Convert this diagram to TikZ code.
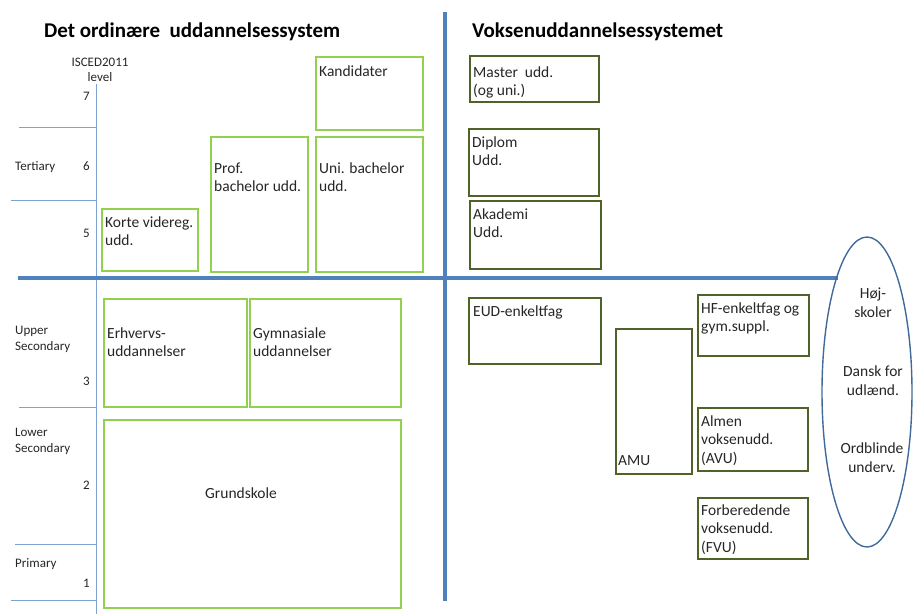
\documentclass[tikz,border=0pt]{standalone}
\usepackage{fontspec}
\setmainfont{Carlito}
\usetikzlibrary{shapes.geometric}
\definecolor{gboxc}{HTML}{92D050}
\definecolor{dboxc}{HTML}{4F6228}
\definecolor{bluethick}{HTML}{4F81BD}
\definecolor{bluethin}{HTML}{7EA2D2}
\definecolor{ellc}{HTML}{41699A}
\definecolor{txtc}{HTML}{262626}
\begin{document}
\begin{tikzpicture}[x=1pt,y=-1pt,
  gbox/.style={draw=gboxc,line width=1.8pt,inner sep=0pt,anchor=north west},
  dbox/.style={draw=dboxc,line width=1.8pt,inner sep=0pt,anchor=north west},
  btxt/.style={inner sep=0pt,anchor=base west,align=left,font=\fontsize{15.5}{18.5}\selectfont,text=txtc},
  ctxt/.style={inner sep=0pt,anchor=base,align=center,font=\fontsize{15.5}{18.5}\selectfont,text=txtc},
  stxt/.style={inner sep=0pt,anchor=base west,align=left,font=\fontsize{13}{16}\selectfont,text=txtc},
  ntxt/.style={inner sep=0pt,anchor=base east,font=\fontsize{13}{16}\selectfont,text=txtc},
  ttl/.style={inner sep=0pt,anchor=base west,font=\fontsize{21}{25}\bfseries\selectfont,text=black},
  thick line/.style={draw=bluethick,line width=3.5pt},
  thin line/.style={draw=bluethin,line width=1pt}]
\useasboundingbox (0,0) rectangle (914,614);
% titles
\node[ttl] (t1) at (44,37) {Det ordinære\ \ uddannelsessystem};
\node[ttl] (t2) at (472,37) {Voksenuddannelsessystemet};
% axis
\draw[thin line] (96,84) -- (96,614);
\draw[thin line] (19,127) -- (96,127);
\draw[thin line] (11,200) -- (96,200);
\draw[thin line] (19,407) -- (96,407);
\draw[thin line] (15,544) -- (96,544);
\draw[thin line] (11,600) -- (96,600);
% main cross
\draw[thick line] (445,12) -- (445,601);
\draw[thick line] (18,278) -- (838,278);
% axis labels (base anchor = last line)
\node[inner sep=0pt,anchor=base,align=center,font=\fontsize{13}{15}\selectfont,text=txtc] (isced) at (100,81) {ISCED2011\\level};
\node[ntxt] (n7) at (90,100) {7};
\node[ntxt] (n6) at (90,170) {6};
\node[ntxt] (n5) at (90,237) {5};
\node[ntxt] (n3) at (90,385) {3};
\node[ntxt] (n2) at (90,489) {2};
\node[ntxt] (n1) at (90,587) {1};
\node[stxt] (tert) at (15,170) {Tertiary};
\node[stxt] (upper) at (15,350) {Upper\\Secondary};
\node[stxt] (lower) at (15,452) {Lower\\Secondary};
\node[stxt] (prim) at (15,567) {Primary};
% left boxes
\node[gbox,minimum width=96,minimum height=62] (korte) at (101,208) {};
\node[btxt] (kortet) at (105,245.5) {Korte videreg.\\udd.};
\node[gbox,minimum width=97,minimum height=135] (prof) at (210,136) {};
\node[btxt] (proft) at (214,191.5) {Prof.\\bachelor udd.};
\node[gbox,minimum width=107,minimum height=135] (uni) at (315,136) {};
\node[btxt] (unit) at (319,191.5) {Uni. bachelor\\udd.};
\node[gbox,minimum width=107,minimum height=73] (kand) at (315,56) {};
\node[btxt] (kandt) at (319,76) {Kandidater};
\node[gbox,minimum width=143,minimum height=108] (erh) at (103,298) {};
\node[btxt] (erht) at (107,356.5) {Erhvervs-\\uddannelser};
\node[gbox,minimum width=151,minimum height=108] (gym) at (249,298) {};
\node[btxt] (gymt) at (253,356.5) {Gymnasiale\\uddannelser};
\node[gbox,minimum width=297,minimum height=188] (grund) at (103,419) {};
\node[ctxt] (grundt) at (241,498) {Grundskole};
% right boxes
\node[dbox,minimum width=129,minimum height=46] (master) at (469,55) {};
\node[btxt] (mastert) at (473,95.5) {Master\ \ udd.\\(og uni.)};
\node[dbox,minimum width=130,minimum height=67] (diplom) at (468,128) {};
\node[btxt] (diplomt) at (472,165.5) {Diplom\\Udd.};
\node[dbox,minimum width=131,minimum height=68] (akad) at (469,200) {};
\node[btxt] (akadt) at (473,237.5) {Akademi\\Udd.};
\node[dbox,minimum width=132,minimum height=66] (eud) at (468,297) {};
\node[btxt] (eudt) at (473,316) {EUD-enkeltfag};
\node[dbox,minimum width=76,minimum height=145] (amu) at (615,328) {};
\node[btxt] (amut) at (618,465) {AMU};
\node[dbox,minimum width=111,minimum height=61] (hf) at (697,294) {};
\node[btxt] (hft) at (701,331.5) {HF-enkeltfag og\\gym.suppl.};
\node[dbox,minimum width=110,minimum height=63] (avu) at (697,407) {};
\node[btxt] (avut) at (701,463) {Almen\\voksenudd.\\(AVU)};
\node[dbox,minimum width=110,minimum height=61] (fvu) at (697,497) {};
\node[btxt] (fvut) at (701,552) {Forberedende\\voksenudd.\\(FVU)};
% ellipse
\node[draw=ellc,line width=1.4pt,ellipse,minimum width=90,minimum height=310,inner sep=0pt] (ell) at (867,392) {};
\node[ctxt] (hoj) at (873,317) {Høj-\\skoler};
\node[ctxt] (dansk) at (873,395) {Dansk for\\udlænd.};
\node[ctxt] (ordb) at (872,472) {Ordblinde\\underv.};
\end{tikzpicture}
\end{document}
